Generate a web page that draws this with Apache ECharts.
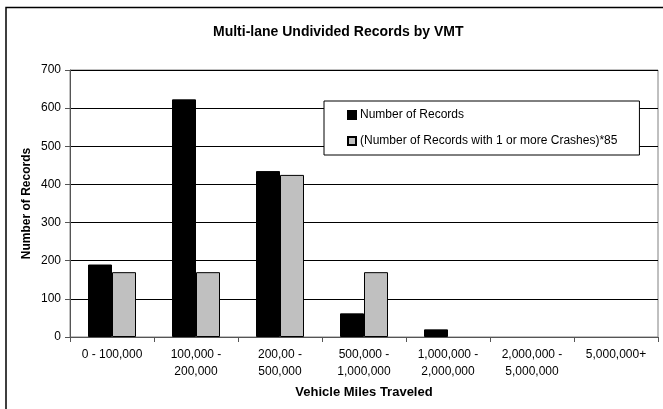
<!DOCTYPE html>
<html>
<head>
<meta charset="utf-8">
<script src="https://cdn.jsdelivr.net/npm/echarts@6/dist/echarts.min.js"></script>
<style>
  html, body { margin: 0; padding: 0; background: #fff; }
  #chart { width: 663px; height: 409px; }
</style>
</head>
<body>
<div id="chart"></div>
<script>
// values
var categories = ['0 - 100,000', '100,000 -\n200,000', '200,00 -\n500,000', '500,000 -\n1,000,000',
  '1,000,000 -\n2,000,000', '2,000,000 -\n5,000,000', '5,000,000+'];
var numRecords = [190, 623, 435, 62, 20, 0, 0];
var crashRecordsScaled = [170, 170, 425, 170, 0, 0, 0];

var font = 'Liberation Sans, Arial, sans-serif';
var chart = echarts.init(document.getElementById('chart'));

// zero bars draw nothing in the original (no outline stub)
function bars(arr) {
  return arr.map(function (v) { return v === 0 ? '-' : v; });
}

chart.setOption({
  animation: false,
  backgroundColor: '#fff',
  textStyle: { fontFamily: font },
  title: {
    text: 'Multi-lane Undivided Records by VMT',
    left: 208,
    top: 20,
    textStyle: { fontSize: 14, fontWeight: 'bold', color: '#000', fontFamily: font }
  },
  graphic: [{
    // outer chart frame
    type: 'rect',
    shape: { x: 6, y: 7.5, width: 700, height: 500 },
    style: { fill: null, stroke: '#000', lineWidth: 1.5 },
    silent: true
  }],
  legend: {
    orient: 'vertical',
    left: 324,
    top: 101,
    icon: 'rect',
    itemWidth: 8,
    itemHeight: 8,
    itemGap: 14,
    padding: [8, 22, 8, 23],
    backgroundColor: '#fff',
    borderColor: '#000',
    borderWidth: 1,
    textStyle: { fontSize: 12, color: '#000', fontFamily: font, padding: [0, 0, 0, -1] },
    data: ['Number of Records', '(Number of Records with 1 or more Crashes)*85']
  },
  grid: {
    left: 70,
    right: 5,
    top: 70,
    bottom: 72,
    show: true,
    borderColor: '#808080',
    borderWidth: 1
  },
  xAxis: {
    type: 'category',
    data: categories,
    name: 'Vehicle Miles Traveled',
    nameLocation: 'middle',
    nameGap: 49,
    nameTextStyle: { fontSize: 13, fontWeight: 'bold', color: '#000' },
    axisLine: { lineStyle: { color: '#555', width: 1 } },
    axisTick: { show: true, interval: 0, length: 5, lineStyle: { color: '#555' } },
    axisLabel: { interval: 0, fontSize: 12, color: '#000', margin: 9, lineHeight: 17 }
  },
  yAxis: {
    type: 'value',
    min: 0,
    max: 700,
    interval: 100,
    name: 'Number of Records',
    nameLocation: 'middle',
    nameGap: 37,
    nameMoveOverlap: false,
    nameTextStyle: { fontSize: 12, fontWeight: 'bold', color: '#000' },
    axisLine: { show: true, lineStyle: { color: '#555', width: 1 } },
    axisTick: { show: true, length: 5, lineStyle: { color: '#555' } },
    axisLabel: { fontSize: 12, color: '#000', margin: 9 },
    splitLine: { lineStyle: { color: '#000', width: 1 } }
  },
  series: [
    {
      name: 'Number of Records',
      type: 'bar',
      barWidth: 24,
      barGap: '0%',
      itemStyle: { color: '#000', borderColor: '#000', borderWidth: 1 },
      data: bars(numRecords)
    },
    {
      name: '(Number of Records with 1 or more Crashes)*85',
      type: 'bar',
      barWidth: 24,
      barGap: '0%',
      itemStyle: { color: '#c0c0c0', borderColor: '#000', borderWidth: 1 },
      data: bars(crashRecordsScaled)
    }
  ]
});
</script>
</body>
</html>
